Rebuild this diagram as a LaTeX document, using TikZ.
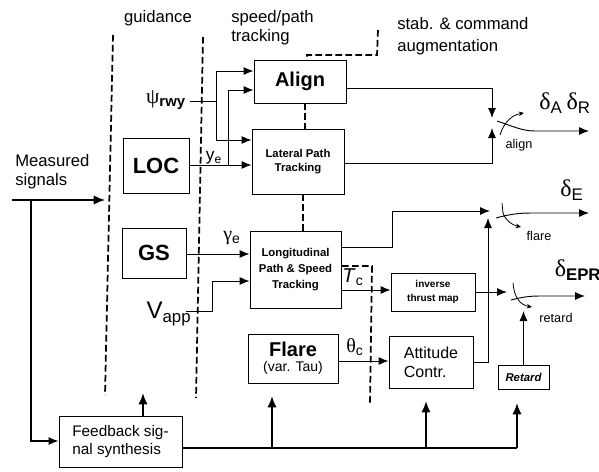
\documentclass[tikz,border=0pt]{standalone}
\usepackage{amsmath}
\usepackage{fontspec}
\setmainfont{Liberation Sans}
\newfontfamily\grk{Liberation Serif}
\usetikzlibrary{arrows.meta}

\tikzset{
  blk/.style={draw, line width=0.7pt, align=center, inner sep=1pt},
  arr/.style={-{Latex[length=7.5pt,width=6pt]}, line width=0.7pt},
  fbarr/.style={-{Latex[length=8.5pt,width=7pt]}, line width=1.4pt},
  bnd/.style={line width=1.3pt, dash pattern=on 5pt off 2.5pt},
  lever/.style={-{Stealth[length=4pt,width=3.5pt]}, line width=0.6pt},
  lbl/.style={font=\fontsize{12.5}{14.5}\selectfont, align=left, inner sep=0pt},
  sym/.style={font=\fontsize{15}{17}\selectfont, inner sep=0pt},
  swl/.style={font=\fontsize{9.5}{11}\selectfont, inner sep=0pt},
}

\begin{document}
\begin{tikzpicture}[x=0.75pt, y=-0.75pt]
\useasboundingbox (0,0) rectangle (599,471);
% Testi in alto
\node[lbl] (tguid) at (158,18) {guidance};
\node[lbl, anchor=west] (tspd) at (231,28) {speed/path\\tracking};
\node[lbl, anchor=west, font=\fontsize{12.5}{16.5}\selectfont] (tstab) at (397,36) {stab. \& command\\augmentation};
\node[lbl, anchor=west] (tmeas) at (15,172) {Measured\\signals};
% Confini tratteggiati
\draw[bnd] (113,35) -- (105,395);
\draw[bnd] (203,37) -- (196,398);
\draw[bnd] (378,30) -- (377,55) -- (307,55) -- (307,60);
\draw[bnd] (305,103) -- (305,129);
\draw[bnd] (303,194) -- (303,231);
\draw[bnd] (342,266) -- (372,266) -- (370,405);
% Blocchi
\node[blk, minimum width=69pt, minimum height=32.25pt, font=\fontsize{15}{17}\selectfont\bfseries] (align) at (300,81.5) {Align};
\node[blk, minimum width=69pt, minimum height=48.75pt, font=\fontsize{8.5}{10.5}\selectfont\bfseries] (lat) at (298,161.5) {Lateral Path\\Tracking};
\node[blk, minimum width=49.5pt, minimum height=41.25pt, font=\fontsize{16.5}{18}\selectfont\bfseries] (loc) at (156,165.5) {LOC};
\node[blk, minimum width=48pt, minimum height=37.5pt, font=\fontsize{16.5}{18}\selectfont\bfseries] (gs) at (154,253) {GS};
\node[blk, minimum width=68.25pt, minimum height=57.75pt, font=\fontsize{8.5}{12}\selectfont\bfseries] (lon) at (295.5,269.5) {Longitudinal\\Path \& Speed\\Tracking};
\node[blk, minimum width=67.5pt, minimum height=36.75pt] (flare) at (293,358.5) {{\fontsize{15}{17}\selectfont\bfseries Flare}\\[-1pt]{\fontsize{10.5}{12}\selectfont (var. Tau)}};
\node[blk, minimum width=63pt, minimum height=28.5pt, font=\fontsize{7.5}{10.5}\selectfont\bfseries] (itm) at (433,292) {inverse\\thrust map};
\node[blk, minimum width=63pt, minimum height=39pt, align=left, font=\fontsize{12}{14}\selectfont] (att) at (431,362) {Attitude\\Contr.};
\node[blk, minimum width=38.25pt, minimum height=18pt, font=\fontsize{8.5}{10}\selectfont\bfseries\itshape] (ret) at (523.5,377) {Retard};
\node[blk, minimum width=92.25pt, minimum height=38.25pt, align=left, font=\fontsize{11.5}{14}\selectfont] (fb) at (120.5,441.5) {Feedback sig-\\nal synthesis};
% Segnali
\node[sym, font=\fontsize{16}{18}\selectfont] (psi) at (166,100) {{\grk ψ}$_{\textbf{rwy}}$};
\node[sym, font=\fontsize{13}{15}\selectfont] (ye) at (214,158) {y$_{\text{e}}$};
\node[sym] (gam) at (232,238) {{\grk γ}$_{\text{e}}$};
\node[sym, font=\fontsize{18}{20}\selectfont] (vapp) at (169,314) {V$_{\text{app}}$};
\node[sym] (tc) at (353,277) {\textit{T}$_{\text{c}}$};
\node[sym] (thc) at (355,347) {{\grk θ}$_{\text{c}}$};
\node[sym, font=\fontsize{18}{20}\selectfont] (dar) at (565,103) {{\grk δ}$_{\text{A}}$\,{\grk δ}$_{\text{R}}$};
\node[sym, font=\fontsize{18}{20}\selectfont] (de) at (572,190) {{\grk δ}$_{\text{E}}$};
\node[sym, font=\fontsize{18}{20}\selectfont] (depr) at (578,270) {{\grk δ}$_{\textbf{EPR}}$};
\node[swl] (lal) at (519,145) {align};
\node[swl] (lfl) at (539,236) {flare};
\node[swl] (lre) at (556,318) {retard};
% Ingressi laterali
\coordinate (psj) at (216,101);
\draw[line width=0.7pt] (190,101) -- (psj);
\draw[arr] (psj) |- (align.west |- 0,71);
\draw[arr] (psj) |- (lat.west |- 0,140);
\draw[arr] (loc.east |- 0,165) -- (lat.west |- 0,165);
\draw[arr] (228,165) |- (align.west |- 0,90);
\draw[arr] (gs.east |- 0,254) -- (lon.west |- 0,254);
\draw[arr] (186,311) -- (212,311) |- (lon.west |- 0,281);
\draw[arr] (lon.east |- 0,290) -- (itm.west |- 0,290);
\draw[arr] (flare.east |- 0,361) -- (att.west |- 0,361);
% Interruttore align
\coordinate (s1t) at (492,118);
\coordinate (s1b) at (492,128);
\draw[arr] (align.east |- 0,88) -| (s1t);
\draw[arr] (lat.east |- 0,163) -| (s1b);
\draw[arr] (497,121) .. controls (512,126) and (522,131) .. (535,131) -- (589,131);
\draw[lever] (500,135) .. controls (504,122) and (512,115) .. (524,113);
% Interruttore flare
\coordinate (s2l) at (490,211);
\coordinate (s2b) at (488,218);
\draw[arr] (lon.east |- 0,247) -- (392,247) |- (s2l);
\draw[arr] (att.east |- 0,362) -- (488,362) -- (s2b);
\draw[line width=0.6pt] (502,203) -- (503,213);
\draw[arr] (496,218) .. controls (510,214) and (520,213) .. (532,213) -- (589,213);
\draw[lever] (503,213) .. controls (506,221) and (512,225) .. (521,227);
% Interruttore retard
\coordinate (s3l) at (507,292);
\coordinate (s3b) at (523.5,311);
\draw[arr] (itm.east |- 0,292) -- (s3l);
\draw[arr] (ret.north) -- (s3b);
\draw[arr] (511,300) .. controls (522,297) and (530,296) .. (540,296) -- (585,296);
\draw[lever] (513,283) .. controls (514,297) and (520,305) .. (532,307);
% Retroazione
\draw[line width=1.1pt, -{Latex[length=8.5pt,width=7pt]}] (12,200) -- (105,200);
\draw[arr, line width=0.9pt] (31,200) |- (fb.west |- 0,441);
\draw[line width=1.4pt] (fb.east |- 0,448) -- (517,448);
\draw[fbarr] (fb.north -| 143,0) -- (143,393);
\draw[fbarr] (272,448) -- (272,396);
\draw[fbarr] (426,448) -- (426,401);
\draw[fbarr] (517,448) -- (517,403);
\end{tikzpicture}
\end{document}
